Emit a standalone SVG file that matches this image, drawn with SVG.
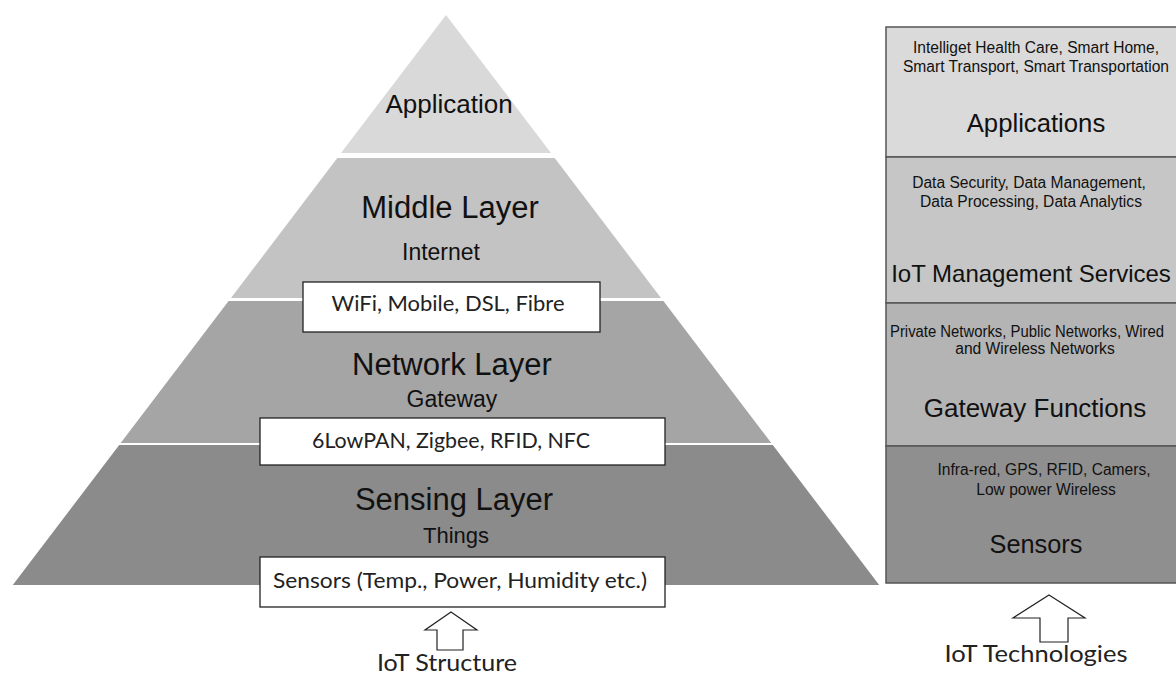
<svg xmlns="http://www.w3.org/2000/svg" width="1176" height="675" viewBox="0 0 1176 675">
<style>
.ar{font-family:"Liberation Sans",Arial,sans-serif;fill:#111;text-anchor:middle}
.sm{font-family:"Liberation Sans",Arial,sans-serif;fill:#111;text-anchor:middle;font-size:15.6px}
.cb{font-family:Lato,"Open Sans",sans-serif;fill:#222;text-anchor:middle}
.box{fill:#fff;stroke:#222;stroke-width:1.3}
.row{stroke:#555;stroke-width:1.5}
.arrow{fill:#fff;stroke:#222;stroke-width:1.2;stroke-linejoin:miter}
</style>
<rect width="1176" height="675" fill="#fff"/>
<g id="pyramid">
  <g id="application-layer">
    <polygon points="446,15 551,153 341,153" fill="#d9d9d9"/>
    <text class="ar" x="449" y="113" font-size="26">Application</text>
  </g>
  <g id="middle-layer">
    <polygon points="337.3,158 554.7,158 661,298 231,298" fill="#c3c3c3"/>
    <text class="ar" x="450" y="218" font-size="31">Middle Layer</text>
    <text class="ar" x="441" y="260" font-size="23">Internet</text>
  </g>
  <g id="network-layer">
    <polygon points="228.6,301 663.4,301 771.3,443 120.7,443" fill="#a5a5a5"/>
    <text class="ar" x="452" y="375" font-size="31">Network Layer</text>
    <text class="ar" x="452" y="407" font-size="23">Gateway</text>
  </g>
  <g id="sensing-layer">
    <polygon points="119.2,445 772.8,445 879.2,585 12.8,585" fill="#8b8b8b"/>
    <text class="ar" x="454" y="510" font-size="31">Sensing Layer</text>
    <text class="ar" x="456" y="543" font-size="22">Things</text>
  </g>
  <g id="wifi-box">
    <rect class="box" x="303" y="282" width="297" height="50"/>
    <text class="cb" x="448" y="311" font-size="21" textLength="233" lengthAdjust="spacingAndGlyphs">WiFi, Mobile, DSL, Fibre</text>
  </g>
  <g id="gateway-box">
    <rect class="box" x="260" y="418" width="405" height="47"/>
    <text class="cb" x="451" y="448" font-size="21" textLength="278" lengthAdjust="spacingAndGlyphs">6LowPAN, Zigbee, RFID, NFC</text>
  </g>
  <g id="sensors-box">
    <rect class="box" x="260" y="557" width="405" height="50"/>
    <text class="cb" x="460" y="588" font-size="21" textLength="374" lengthAdjust="spacingAndGlyphs">Sensors (Temp., Power, Humidity etc.)</text>
  </g>
  <g id="iot-structure">
    <text class="cb" x="447" y="671" font-size="23" textLength="140" lengthAdjust="spacingAndGlyphs">IoT Structure</text>
  </g>
</g>
<g id="tech-stack">
  <g id="applications-row">
    <rect class="row" x="886" y="27" width="300" height="130" fill="#dadada"/>
    <text class="sm" x="1036" y="53">Intelliget Health Care, Smart Home,</text>
    <text class="sm" x="1036" y="72">Smart Transport, Smart Transportation</text>
    <text class="ar" x="1036" y="132" font-size="25.7">Applications</text>
  </g>
  <g id="management-row">
    <rect class="row" x="886" y="157" width="300" height="146" fill="#c6c6c6"/>
    <text class="sm" x="1029" y="188">Data Security, Data Management,</text>
    <text class="sm" x="1031" y="207">Data Processing, Data Analytics</text>
    <text class="ar" x="1031" y="282" font-size="24">IoT Management Services</text>
  </g>
  <g id="gateway-row">
    <rect class="row" x="886" y="303" width="300" height="143" fill="#b4b4b4"/>
    <text class="sm" x="890" y="337" style="text-anchor:start" textLength="274" lengthAdjust="spacingAndGlyphs">Private Networks, Public Networks, Wired</text>
    <text class="sm" x="1035" y="354">and Wireless Networks</text>
    <text class="ar" x="1035" y="417" font-size="26">Gateway Functions</text>
  </g>
  <g id="sensors-row">
    <rect class="row" x="886" y="446" width="300" height="137" fill="#8f8f8f"/>
    <text class="sm" x="1044" y="475">Infra-red, GPS, RFID, Camers,</text>
    <text class="sm" x="1046" y="495">Low power Wireless</text>
    <text class="ar" x="1036" y="553" font-size="25.3">Sensors</text>
  </g>
  <g id="iot-technologies">
    <text class="cb" x="1036" y="662" font-size="23" textLength="183" lengthAdjust="spacingAndGlyphs">IoT Technologies</text>
  </g>
</g>
<g id="connectors">
  <path class="arrow" d="M451,612 L477,630 L463,630 L463,650 L437,650 L437,630 L425,630 Z"/>
  <path class="arrow" d="M1049,595 L1085,618 L1068,618 L1068,642 L1040,642 L1040,618 L1013,618 Z"/>
</g>
</svg>
